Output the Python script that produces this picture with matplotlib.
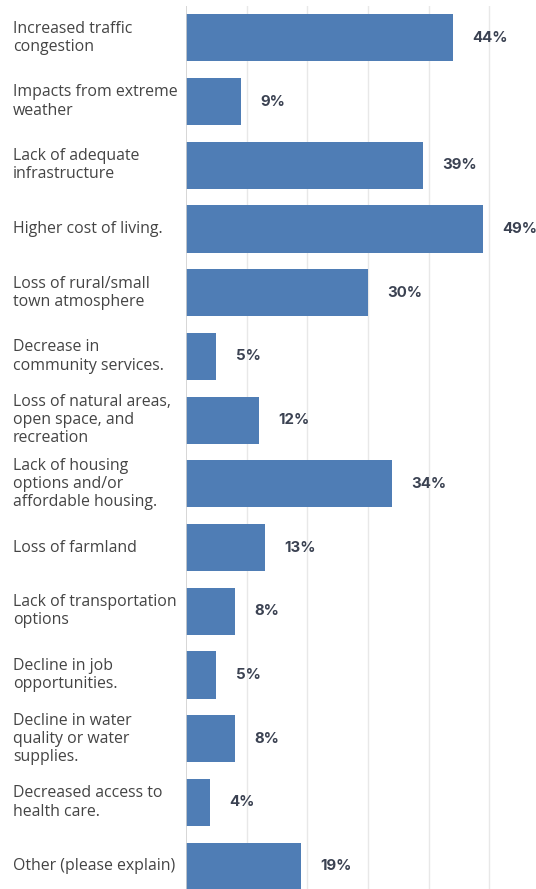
import matplotlib
matplotlib.use("Agg")
import matplotlib.pyplot as plt

categories = [
    "Increased traffic\ncongestion",
    "Impacts from extreme\nweather",
    "Lack of adequate\ninfrastructure",
    "Higher cost of living.",
    "Loss of rural/small\ntown atmosphere",
    "Decrease in\ncommunity services.",
    "Loss of natural areas,\nopen space, and\nrecreation",
    "Lack of housing\noptions and/or\naffordable housing.",
    "Loss of farmland",
    "Lack of transportation\noptions",
    "Decline in job\nopportunities.",
    "Decline in water\nquality or water\nsupplies.",
    "Decreased access to\nhealth care.",
    "Other (please explain)",
]
values = [44, 9, 39, 49, 30, 5, 12, 34, 13, 8, 5, 8, 4, 19]
value_labels = [f"{v}%" for v in values]

W, H = 536, 889
fig = plt.figure(figsize=(W / 100, H / 100), dpi=100)
ax = fig.add_axes([186 / W, -9 / H, 1 - 186 / W, (898 - 6) / H])

n = len(categories)
ys = list(range(n))
ax.barh(ys, values, height=0.74, color="#4f7db5", zorder=2)
ax.set_ylim(n - 0.5, -0.5)
ax.set_xlim(0, 57.7)

for x in [10, 20, 30, 40, 50]:
    ax.axvline(x, color="#e8e8e8", lw=1, zorder=1)
ax.axvline(0, color="#cfcfcf", lw=1.2, zorder=3)

for s in ax.spines.values():
    s.set_visible(False)
ax.set_xticks([])
ax.set_yticks([])

for y, v, lab in zip(ys, values, value_labels):
    ax.annotate(lab, (v, y), xytext=(14, 0), textcoords="offset points",
                ha="left", va="center", fontsize=10.8, fontweight="bold",
                color="#3b4252", family=["Inter", "DejaVu Sans"])

for y, cat in zip(ys, categories):
    ax.annotate(cat, (0, y), xycoords=("figure pixels", "data"),
                xytext=(13, 0), textcoords="offset pixels",
                ha="left", va="center", fontsize=11.4, color="#444444",
                family=["Open Sans", "DejaVu Sans"], linespacing=1.18)

fig.savefig("out.png", dpi=100)
